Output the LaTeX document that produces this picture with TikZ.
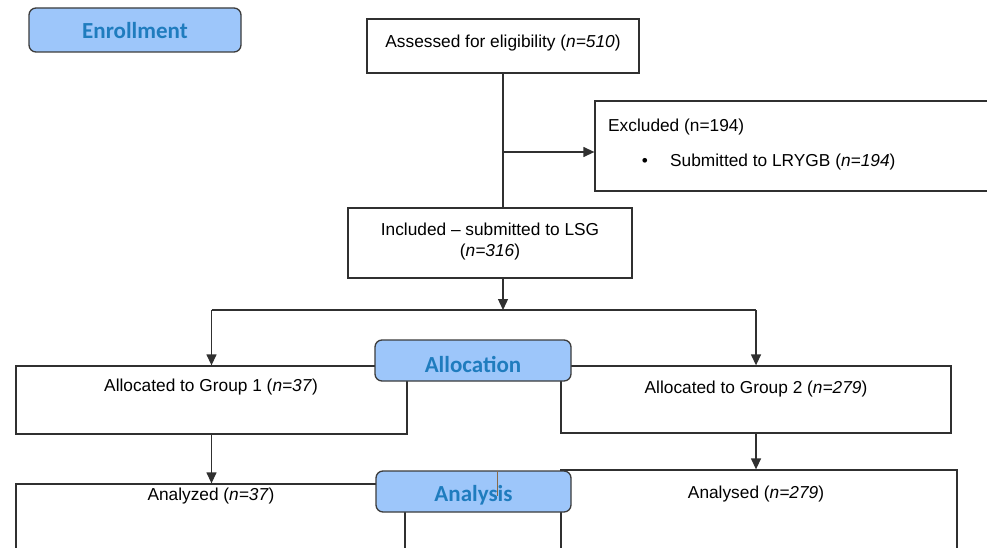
\documentclass[tikz,border=0pt]{standalone}
\usepackage{fontspec}
\setmainfont{Liberation Sans}
\newfontfamily\labfont{Carlito}
\usetikzlibrary{arrows.meta}
\definecolor{labfill}{HTML}{9DC6FA}
\definecolor{labtext}{HTML}{1F7CBE}
\definecolor{labedge}{HTML}{3C3C3C}
\definecolor{linec}{HTML}{303030}
\definecolor{stray}{HTML}{8A6A48}
\begin{document}
\begin{tikzpicture}[x=1pt,y=-1pt,
  box/.style={draw=linec,line width=1.3pt,fill=white,rectangle,inner sep=0pt},
  lab/.style={draw=labedge,line width=1.3pt,fill=labfill,rounded corners=7pt,inner sep=0pt,
    text depth=0pt,text=labtext,font=\labfont\bfseries\fontsize{23}{26}\selectfont},
  txt/.style={font=\fontsize{17.3}{21}\selectfont,text=black,inner sep=0pt},
  conn/.style={draw=linec,line width=1.3pt},
  arr/.style={conn,-{Triangle[length=11pt,width=10pt]}}]
\useasboundingbox (0,0) rectangle (987,548);
\fill[white] (0,0) rectangle (987,548);
\begin{scope}
\clip (0,0) rectangle (987,548);
% boxes
\node[box,minimum width=272pt,minimum height=54pt] (assess) at (503,46) {};
\node[box,minimum width=394pt,minimum height=90pt] (excl) at (792,146) {};
\node[box,minimum width=284pt,minimum height=70pt] (incl) at (490,243) {};
\node[box,minimum width=391pt,minimum height=68pt] (g1) at (211.5,400) {};
\node[box,minimum width=390pt,minimum height=67pt] (g2) at (756,399.5) {};
\node[box,minimum width=389pt,minimum height=90pt] (an1) at (210.5,529) {};
\node[box,minimum width=396pt,minimum height=104pt] (an2) at (759,522) {};
% texts
\node[txt] (tassess) at (503,43) {Assessed for eligibility (\textit{n=510})};
\node[txt,anchor=west] (texcl) at (608,127) {Excluded (n=194)};
\node[txt] (tbul) at (645,162) {\textbullet};
\node[txt,anchor=west] (tsub) at (670,162) {Submitted to LRYGB (\textit{n=194})};
\node[txt,align=center] (tincl) at (490,242) {Included -- submitted to LSG\\(\textit{n=316})};
\node[txt] (tg1) at (211,387) {Allocated to Group 1 (\textit{n=37})};
\node[txt] (tg2) at (756,389) {Allocated to Group 2 (\textit{n=279})};
\node[txt] (tan1) at (211,496) {Analyzed (\textit{n=37})};
\node[txt] (tan2) at (756,494) {Analysed (\textit{n=279})};
% connectors
\draw[conn] (assess.south) -- (assess.south |- incl.north);
\coordinate (br) at (503,152);
\draw[arr] (br) -- (br -| excl.west);
\coordinate (sp) at (503,310);
\draw[arr] (assess.south |- incl.south) -- (sp);
\draw[conn] (sp -| g1.north) -- (sp -| g2.north);
\draw[arr] (sp -| g1.north) -- (g1.north);
\draw[arr] (sp -| g2.north) -- (g2.north);
\draw[arr] (g1.south) -- (g1.south |- an1.north);
\draw[arr] (g2.south) -- (g2.south |- an2.north);
% section labels
\node[lab,minimum width=212pt,minimum height=44pt,text height=17pt] (enr) at (135,30) {Enrollment};
\node[lab,minimum width=196pt,minimum height=41pt,text height=23pt] (alloc) at (473,360.5) {Allocation};
\node[lab,minimum width=195pt,minimum height=41pt,text height=20pt] (anal) at (473.5,491.5) {Analysis};
\coordinate (s1) at (497,471);
\coordinate (s2) at (497,496);
\draw[stray,line width=1pt] (s1) -- (s2);
\end{scope}
\end{tikzpicture}
\end{document}
